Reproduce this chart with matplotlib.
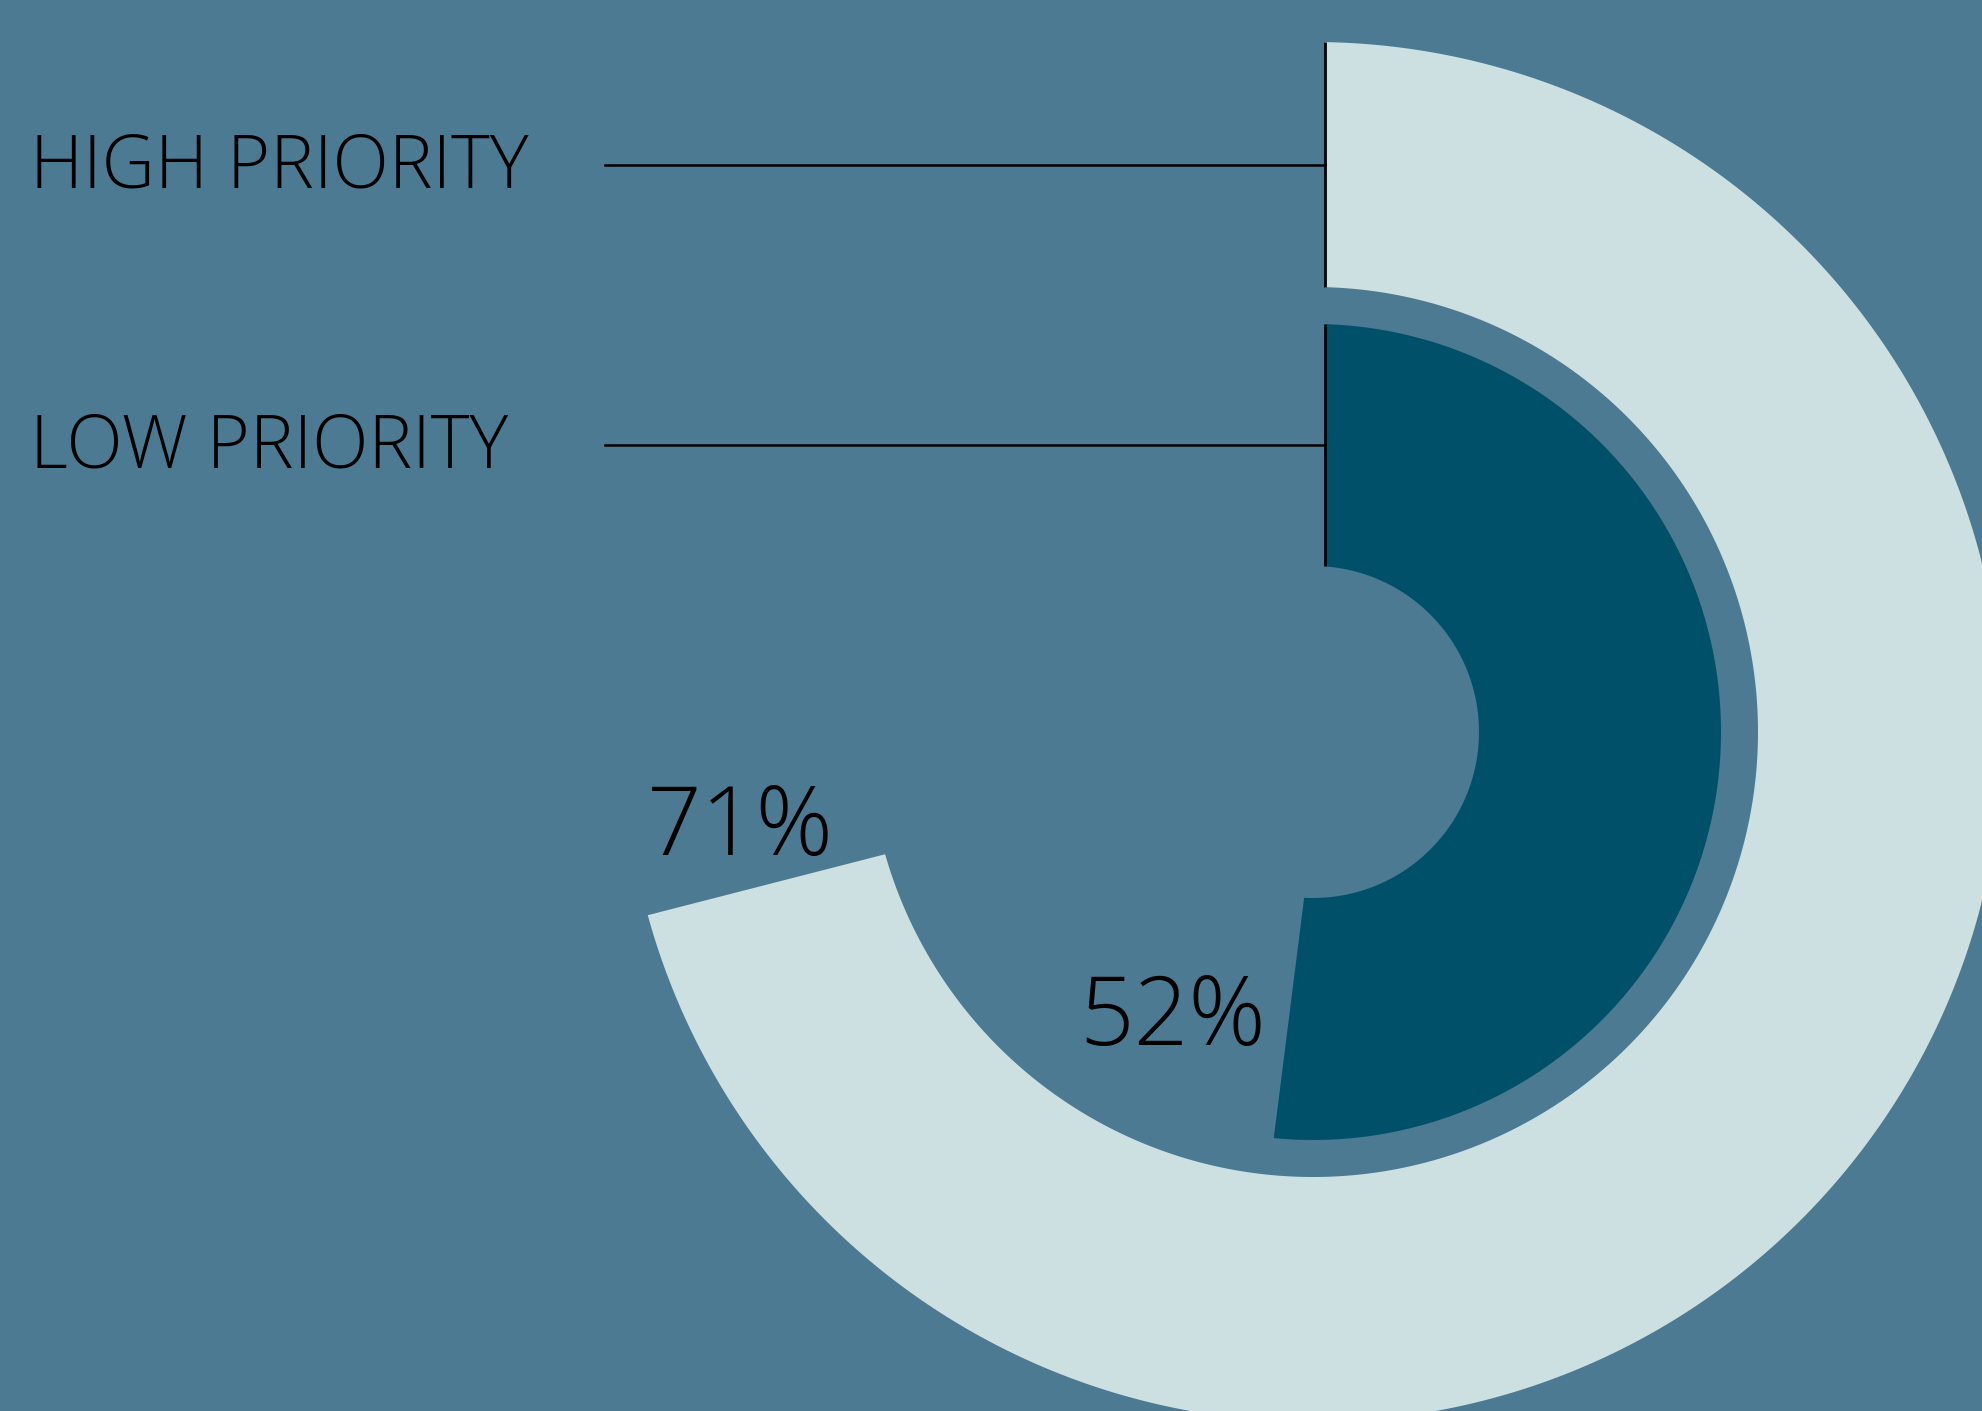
import matplotlib.pyplot as plt
import numpy as np

# データ
categories = ['HIGH PRIORITY', 'LOW PRIORITY']
values = [71, 52]          # %
labels = ['71%', '52%']

BG = '#4b7a92'
ring_colors = ['#cce0e2', '#00506a']

# リング半径（ピクセル単位）
ring_inner = [445, 166]
ring_outer = [690, 408]
PAD = 12                   # 弧の両端の余白（ピクセル）

W, H = 1983, 1411
cx, cy = 1313, 732         # 円の中心（上からのピクセル）
R = 700

plt.rcParams['font.family'] = ['Open Sans', 'DejaVu Sans']

fig = plt.figure(figsize=(W / 100, H / 100), dpi=100)
fig.patch.set_facecolor(BG)

# 円グラフ部分（polar）
ax = fig.add_axes([(cx - R) / W, (H - cy - R) / H, 2 * R / W, 2 * R / H],
                  projection='polar')
ax.set_theta_zero_location('N')
ax.set_theta_direction(-1)
ax.set_ylim(0, R)
ax.axis('off')
ax.set_zorder(0)

# 線と文字用の全面 axes（ピクセル座標）、円の上に重ねる
ax0 = fig.add_axes([0, 0, 1, 1])
ax0.set_xlim(0, W)
ax0.set_ylim(H, 0)
ax0.axis('off')
ax0.set_zorder(1)

for v, r0, r1, c in zip(values, ring_inner, ring_outer, ring_colors):
    end = v / 100 * 2 * np.pi
    # 両端を平行にずらした弧（d3 の padAngle 風）
    t_out = np.linspace(np.arcsin(PAD / r1), end - np.arcsin(PAD / r1), 400)
    t_in = np.linspace(end - np.arcsin(PAD / r0), np.arcsin(PAD / r0), 400)
    ax.fill(np.concatenate([t_out, t_in]),
            np.concatenate([np.full_like(t_out, r1), np.full_like(t_in, r0)]),
            color=c, edgecolor='none')

# パーセント表示（リング終端の少し先）
label_offsets = [(np.deg2rad(2.3), 18), (np.deg2rad(17.0), 56)]
for v, r0, r1, lab, (dt, dr) in zip(values, ring_inner, ring_outer, labels, label_offsets):
    th = v / 100 * 2 * np.pi + dt
    ax.text(th, (r0 + r1) / 2 + dr, lab, ha='center', va='baseline',
            fontsize=69, fontweight='light', color='black')

# カテゴリ名、引き出し線、開始位置の縦線
for cat, r0, r1 in zip(categories, ring_inner, ring_outer):
    y = cy - (r0 + r1) / 2
    xs = cx + PAD
    ax0.plot([xs, xs], [cy - np.sqrt(r1**2 - PAD**2), cy - np.sqrt(r0**2 - PAD**2)],
             color='black', lw=2.0, solid_capstyle='butt')
    ax0.plot([605, xs], [y, y], color='black', lw=1.8)
    ax0.text(30, y + 23, cat, ha='left', va='baseline',
             fontsize=53, fontweight='light', color='black')

plt.savefig('out.png', dpi=100, facecolor=BG)
plt.close()
